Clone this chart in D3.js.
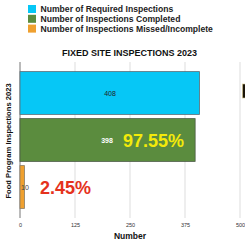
<!DOCTYPE html>
<html>
<head>
<meta charset="utf-8">
<script src="https://cdn.jsdelivr.net/npm/d3@7"></script>
<style>
  body { margin: 0; background: #fff; }
  text { font-family: "Liberation Sans", Arial, sans-serif; }
</style>
</head>
<body>
<div id="chart"></div>
<script>
let categories = ['Required', 'Completed', 'Missed'];
let legendLabels = ['Number of Required Inspections', 'Number of Inspections Completed', 'Number of Inspections Missed/Incomplete'];
let values = [408, 398, 10];
let percentLabels = ['', '97.55%', '2.45%'];
let tickValues = [0, 125, 250, 375, 500];

let width = 245;
let height = 240;
let colors = ['#06c7f6', '#5b8c3e', '#efa02f'];
let strokes = ['#5a6c75', '#4b5a44', '#8a7a60'];

let svg = d3.select('#chart')
    .append('svg')
    .attr('width', width)
    .attr('height', height);

// legend
let legend = svg.append('g');
legendLabels.forEach((d, i) => {
    legend.append('rect')
        .attr('x', 28)
        .attr('y', 5 + i * 9.8)
        .attr('width', 8)
        .attr('height', 8)
        .attr('fill', colors[i]);
    legend.append('text')
        .attr('x', 40.5)
        .attr('y', 12 + i * 9.8)
        .style('font-size', '8.6px')
        .style('font-weight', 'bold')
        .attr('fill', '#222')
        .text(d);
});

svg.append('text')
    .attr('x', 129.5)
    .attr('y', 55.5)
    .attr('text-anchor', 'middle')
    .style('font-size', '9px')
    .style('font-weight', 'bold')
    .attr('fill', '#111')
    .text('FIXED SITE INSPECTIONS 2023');

let x = d3.scaleLinear().domain([0, 500]).range([20, 240]);
let y = d3.scaleBand().domain(categories).range([69.5, 210.5])
    .paddingInner(0.09).paddingOuter(0.045);

// grid
svg.append('g')
    .selectAll('line')
    .data(tickValues)
    .enter()
    .append('line')
    .attr('x1', d => x(d))
    .attr('x2', d => x(d))
    .attr('y1', 62)
    .attr('y2', 218)
    .attr('stroke', (d, i) => i === 0 ? '#777' : '#ddd')
    .attr('stroke-width', 1);

let xAxis = svg.append('g')
    .attr('transform', 'translate(0,219)')
    .call(d3.axisBottom(x).tickValues(tickValues).tickSize(0).tickPadding(4));
xAxis.select('.domain').remove();
xAxis.selectAll('text')
    .style('font-size', '5.5px')
    .style('font-family', '"Liberation Sans", Arial, sans-serif')
    .attr('fill', '#333');

svg.append('text')
    .attr('x', 130)
    .attr('y', 239)
    .attr('text-anchor', 'middle')
    .style('font-size', '8.5px')
    .style('font-weight', 'bold')
    .attr('fill', '#111')
    .text('Number');

svg.append('text')
    .attr('transform', 'translate(11,141) rotate(-90)')
    .attr('text-anchor', 'middle')
    .style('font-size', '7.6px')
    .style('font-weight', 'bold')
    .attr('fill', '#111')
    .text('Food Program Inspections 2023');

// bars
svg.append('g')
    .selectAll('rect')
    .data(values)
    .enter()
    .append('rect')
    .attr('x', x(0))
    .attr('y', (d, i) => y(categories[i]))
    .attr('width', d => x(d) - x(0))
    .attr('height', y.bandwidth())
    .attr('fill', (d, i) => colors[i])
    .attr('stroke', (d, i) => strokes[i])
    .attr('stroke-width', 0.8);

// value labels
let valueX = [110, 107, 25];
let valueFill = ['#222', '#fff', '#444'];
values.forEach((d, i) => {
    svg.append('text')
        .attr('x', valueX[i])
        .attr('y', y(categories[i]) + y.bandwidth() / 2 + 2.5)
        .attr('text-anchor', 'middle')
        .style('font-size', '7px')
        .style('font-weight', i === 1 ? 'bold' : 'normal')
        .attr('fill', valueFill[i])
        .text(d);
});

let pctX = [0, 123, 40];
let pctFill = ['', '#f3ea0a', '#e5321c'];
percentLabels.forEach((d, i) => {
    if (!d) return;
    svg.append('text')
        .attr('x', pctX[i])
        .attr('y', y(categories[i]) + y.bandwidth() / 2 + 6.5)
        .style('font-size', '18px')
        .style('font-weight', 'bold')
        .attr('fill', pctFill[i])
        .text(d);
});

// clipped mark at the right edge
svg.append('rect')
    .attr('x', 242.5)
    .attr('y', 84)
    .attr('width', 4)
    .attr('height', 14)
    .attr('fill', '#1a1408')
    .attr('stroke', '#d8c890')
    .attr('stroke-width', 0.6);
</script>
</body>
</html>
